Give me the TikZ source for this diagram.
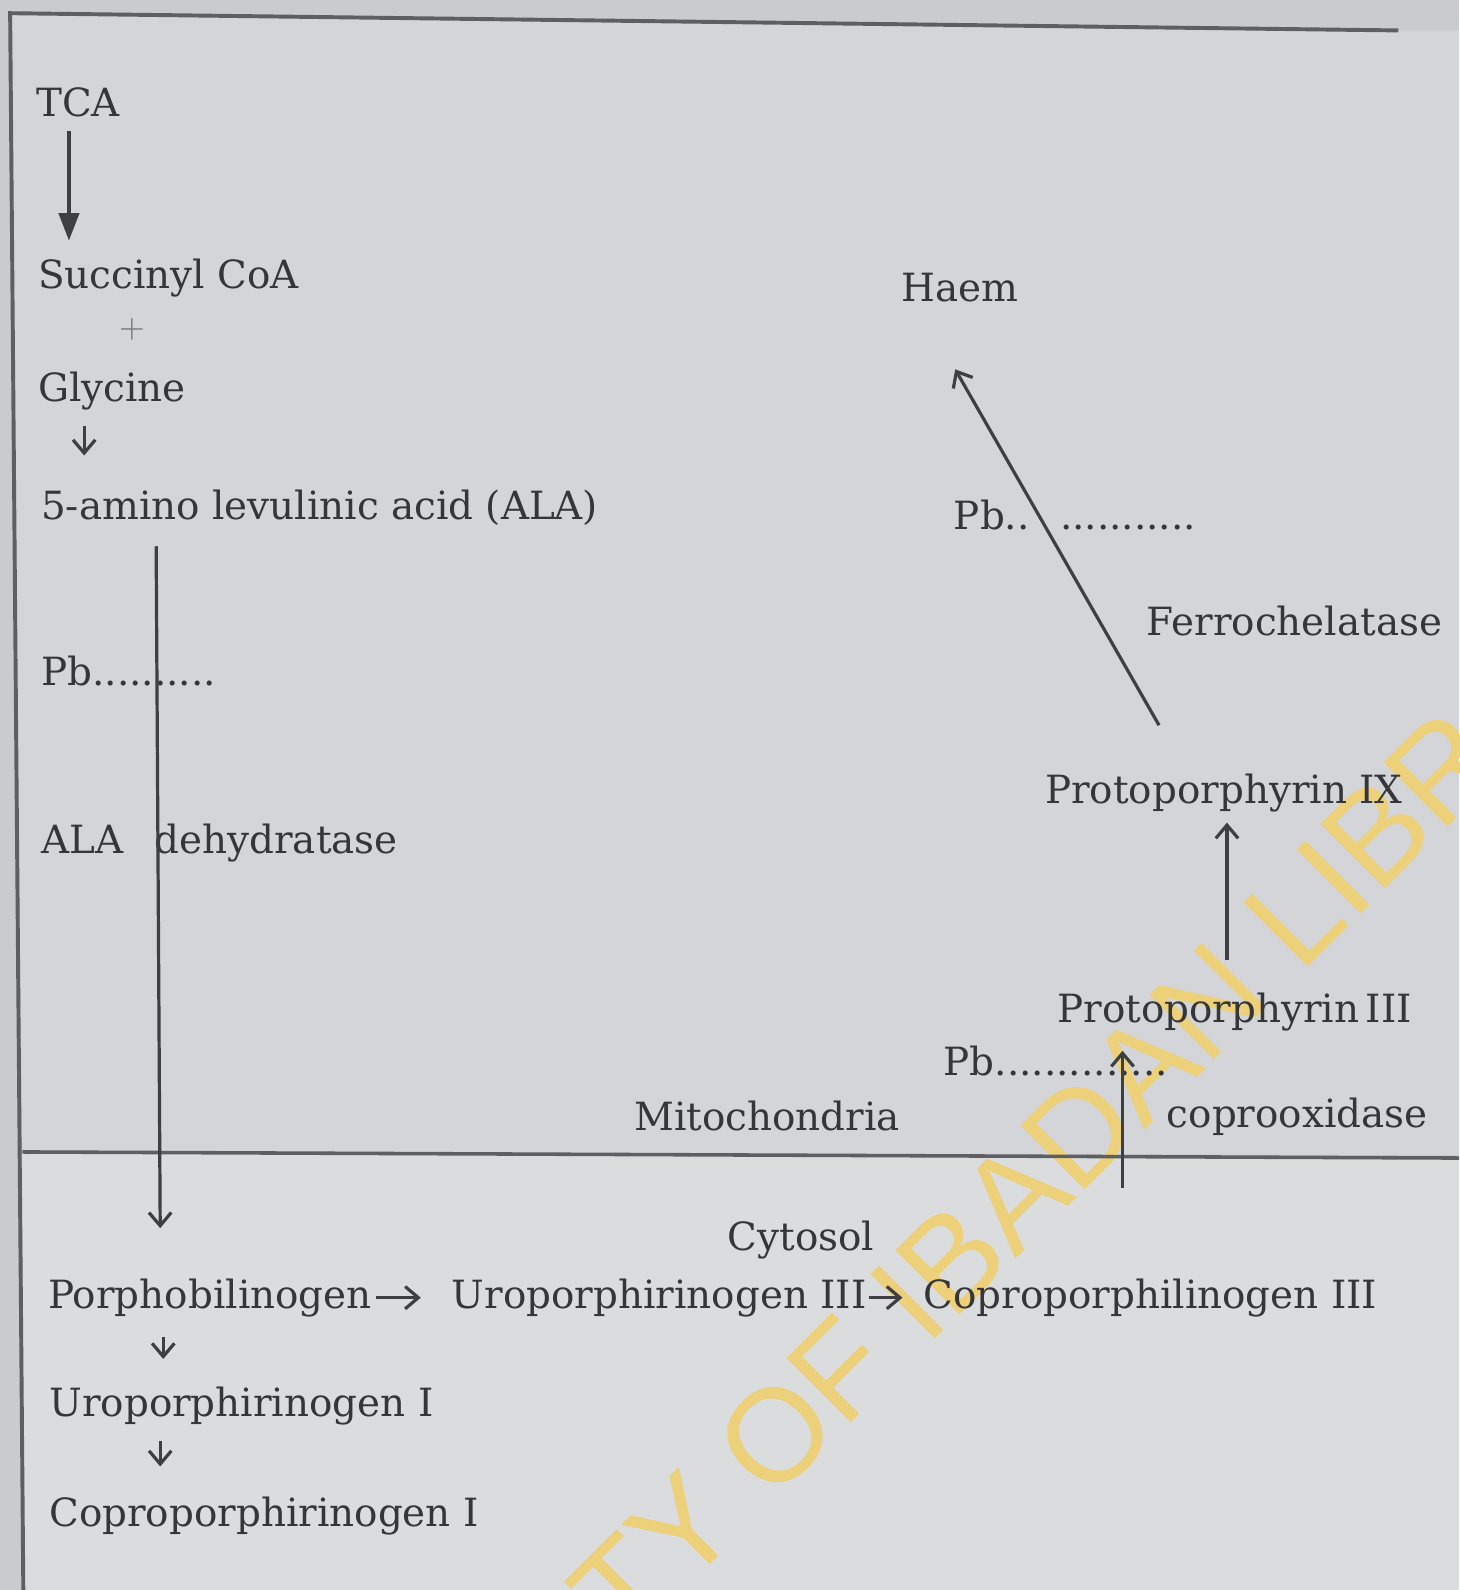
\documentclass[tikz,border=0pt]{standalone}
\usepackage{fontspec}
\usepackage{xcolor}
\usepackage{tikz}
\usetikzlibrary{arrows.meta}
\newfontfamily\lblfont{DejaVu Serif}
\newfontfamily\wmfont{Liberation Sans}
\definecolor{inkgray}{HTML}{35363A}
\definecolor{linegray}{HTML}{3E3F43}
\definecolor{plusgray}{HTML}{77787C}
\definecolor{bgout}{HTML}{C9CBCE}
\definecolor{bgup}{HTML}{D3D5D9}
\definecolor{bglow}{HTML}{DBDCDE}
\definecolor{rulegray}{HTML}{5E5F63}
\definecolor{wmyellow}{HTML}{EDD07A}

\begin{document}
\begin{tikzpicture}[x=0.01cm, y=-0.01cm,
    lbl/.style={anchor=base west, inner sep=0pt, text=inkgray,
        font=\lblfont\fontsize{10.9}{13}\selectfont},
    flow/.style={draw=linegray, line width=0.9pt},
    bigtip/.style={flow, -{Triangle[length=0.27cm, width=0.2cm]}},
    barb/.style={flow, -{Straight Barb[length=0.13cm, width=0.22cm]}}]
    \useasboundingbox (0,0) rectangle (1439,1568);

    % page background
    \fill[bgout] (0,0) rectangle (1439,1568);
    \fill[bgup] (10,13) -- (1379,30) -- (1439,30) -- (1439,1139) -- (22,1136) -- cycle;
    \fill[bglow] (22,1136) -- (1439,1142) -- (1439,1568) -- (23,1568) -- cycle;

    % watermark
    \begin{scope}
        \clip (0,0) rectangle (1439,1568);
        \node[rotate=45, inner sep=0pt, text=wmyellow,
            font=\wmfont\fontsize{37}{41}\selectfont] (wmark) at (897,1283)
            {UNIVERSITY OF IBADAN LIBRARY};
    \end{scope}

    % frame and compartment line
    \draw[rulegray, line width=1.1pt] (1379,30) -- (10,13) -- (23,1568);
    \draw[rulegray, line width=1pt] (22,1136) -- (1439,1142);

    % left column
    \node[lbl] (tca) at (35,115) {TCA};
    \node[lbl] (succ) at (37,284) {Succinyl CoA};
    \node[inner sep=0pt, text=plusgray, font=\fontsize{9}{10}\selectfont] (plus) at (130,325) {+};
    \node[lbl] (gly) at (37,396) {Glycine};
    \node[lbl] (ala) at (40,512) {5-amino levulinic acid (ALA)};
    \node[lbl] (pbA) at (40,676) {Pb..........};
    \node[lbl] (aladh) at (40,842) {ALA\hspace{0.31cm}dehydratase};

    % mitochondrial side
    \node[lbl] (haem) at (888,297) {Haem};
    \node[lbl] (pbB) at (940,522) {Pb..\hspace{0.3cm}...........};
    \node[lbl] (ferro) at (1130,627) {Ferrochelatase};
    \node[lbl] (pix) at (1030,792) {Protoporphyrin IX};
    \node[lbl] (piii) at (1042,1008) {Protoporphyrin\,III};
    \node[lbl] (pbC) at (930,1061) {Pb..............};
    \node[lbl] (mito) at (625,1115) {Mitochondria};
    \node[lbl] (coprox) at (1150,1112) {coprooxidase};

    % cytosol side
    \node[lbl] (cyto) at (717,1233) {Cytosol};
    \node[lbl] (pbg) at (47,1290) {Porphobilinogen};
    \node[lbl] (uro3) at (445,1290) {Uroporphirinogen III};
    \node[lbl] (copro3) at (910,1290) {Coproporphilinogen III};
    \node[lbl] (uro1) at (48,1397) {Uroporphirinogen I};
    \node[lbl] (copro1) at (48,1505) {Coproporphirinogen I};

    % arrows
    \draw[bigtip] ([shift={(33,13)}]tca.south west) -- ([shift={(31,-17)}]succ.north west);
    \draw[barb] ([shift={(46,15)}]gly.south west) -- ([shift={(43,-33)}]ala.north west);
    \draw[barb] ([shift={(114,20)}]ala.south west) -- ([shift={(111,-49)}]pbg.north west);
    \draw[barb] ([shift={(114,19)}]pbg.south west) -- ([shift={(113,-27)}]uro1.north west);
    \draw[barb] ([shift={(110,15)}]uro1.south west) -- ([shift={(110,-29)}]copro1.north west);
    \draw[barb, shorten <=0.03cm, shorten >=0.3cm] (pbg.east) -- (uro3.west);
    \draw[barb, shorten <=0.02cm, shorten >=0.2cm] (uro3.east) -- (copro3.west);
    \draw[barb] ([shift={(197,-89)}]copro3.north west) -- ([shift={(65,19)}]piii.south west);
    \draw[barb] ([shift={(168,-31)}]piii.north west) -- ([shift={(180,10)}]pix.south west);
    \draw[barb] ([shift={(113,-47)}]pix.north west) -- ([shift={(54,66)}]haem.south west);
\end{tikzpicture}
\end{document}
